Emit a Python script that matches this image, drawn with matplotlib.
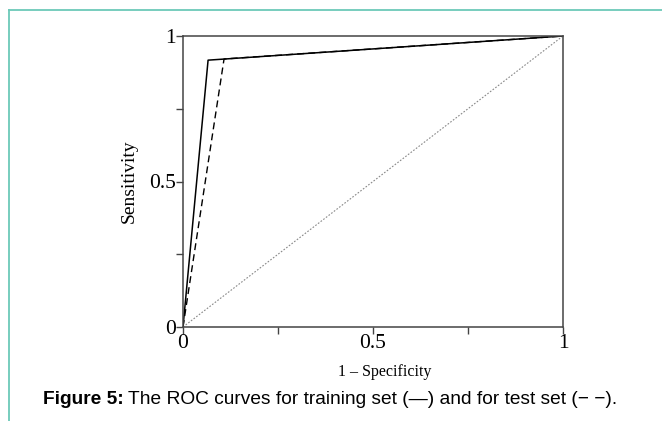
import matplotlib
matplotlib.use("Agg")
import matplotlib.pyplot as plt
from matplotlib.lines import Line2D

# ROC points
train_fpr = [0.0, 0.066, 1.0]
train_tpr = [0.0, 0.917, 1.0]
test_fpr = [0.0, 0.108, 1.0]
test_tpr = [0.0, 0.921, 1.0]
ref_line = [0.0, 1.0]

major_ticks = [0, 0.5, 1]
major_labels = ["0", "0.5", "1"]
minor_ticks = [0.25, 0.75]

SERIF = "Liberation Serif"
SANS = "Liberation Sans"

fig = plt.figure(figsize=(6.62, 4.21), dpi=100, facecolor="white")
W, H = 662, 421
ax = fig.add_axes([183 / W, 1 - 327 / H, 380 / W, 291 / H])

ax.plot(ref_line, ref_line, color="#888888", lw=0.8, ls=(0, (1.5, 1.5)))
ax.plot(test_fpr, test_tpr, color="black", lw=1.0, ls=(0, (5, 3)))
ax.plot(train_fpr, train_tpr, color="black", lw=1.1)

ax.set_xlim(0, 1)
ax.set_ylim(0, 1)
ax.set_xticks(major_ticks)
ax.set_xticks(minor_ticks, minor=True)
ax.set_yticks(major_ticks)
ax.set_yticks(minor_ticks, minor=True)
ax.set_xticklabels(major_labels, fontfamily=SERIF, fontsize=15.5)
ax.set_yticklabels(major_labels, fontfamily=SERIF, fontsize=15.5)
ax.tick_params(which="both", direction="out", length=5, width=1, color="#444444", pad=0)
for s in ax.spines.values():
    s.set_color("#444444")
    s.set_linewidth(1.1)

ax.set_xlabel("1 – Specificity", fontfamily=SERIF, fontsize=11.5)
ax.xaxis.set_label_coords((385 - 183) / 380, -(364 - 327) / 291)
ax.set_ylabel("Sensitivity", fontfamily=SERIF, fontsize=14, labelpad=8)

# caption
t1 = fig.text(43 / W, 1 - 404 / H, "Figure 5:", fontfamily=SANS, fontsize=13.8,
              fontweight="bold", va="baseline", ha="left")
t2 = fig.text(0, 1 - 404 / H,
              "The ROC curves for training set (\u2014) and for test set (\u2212 \u2212).",
              fontfamily=SANS, fontsize=13.8, va="baseline", ha="left")
fig.canvas.draw()
bb = t1.get_window_extent()
t2.set_x((bb.x1 + 4) / W)

# frame lines
fig.add_artist(Line2D([9 / W, 1], [1 - 10 / H, 1 - 10 / H], color="#6cc9b9", lw=1.3))
fig.add_artist(Line2D([9 / W, 9 / W], [0, 1 - 10 / H], color="#6cc9b9", lw=1.3))

fig.savefig("out.png", dpi=100, facecolor="white")
